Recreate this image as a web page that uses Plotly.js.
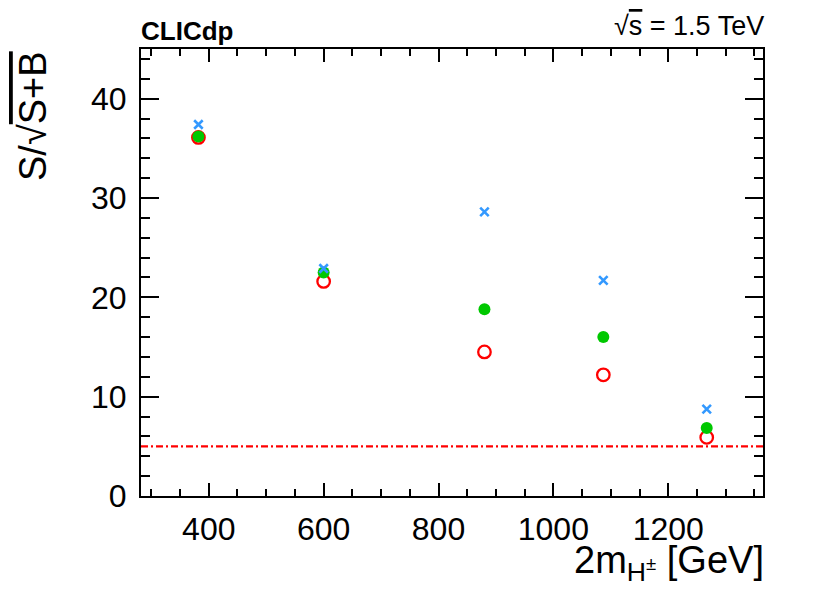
<!DOCTYPE html>
<html>
<head>
<meta charset="utf-8">
<script src="https://cdn.plot.ly/plotly-3.0.1.min.js"></script>
<style>html,body{margin:0;padding:0;background:#fff;}#chart{width:830px;height:605px;}</style>
</head>
<body>
<div id="chart"></div>
<script>
// Data
const massPoints = [382, 600, 880, 1087, 1267];          // 2 m_H± [GeV]
const seriesBlue  = [37.4, 22.9, 28.6, 21.7, 8.75];       // blue crosses
const seriesGreen = [36.2, 22.5, 18.8, 16.0, 6.85];       // green filled circles
const seriesRed   = [36.1, 21.6, 14.5, 12.2, 5.9];        // red open circles
const discoveryLevel = 5;                                  // 5 sigma reference line
const xTickVals = [400, 600, 800, 1000, 1200];
const yTickVals = [0, 10, 20, 30, 40];

const FONT = 'Liberation Sans, Arial, Helvetica, sans-serif';

const traces = [
  {x: massPoints, y: seriesRed, mode: 'markers', type: 'scatter',
   marker: {symbol: 'circle-open', size: 12.5, color: '#ff0000', line: {width: 2.3, color: '#ff0000'}}},
  {x: massPoints, y: seriesGreen, mode: 'markers', type: 'scatter',
   marker: {symbol: 'circle', size: 12, color: '#00c800', line: {width: 0}}},
  {x: massPoints, y: seriesBlue, mode: 'markers', type: 'scatter',
   marker: {symbol: 'x-thin-open', size: 8.5, color: '#3399ff', line: {width: 2.6, color: '#3399ff'}}}
];

const axisCommon = {
  showline: true, linecolor: '#000', linewidth: 2, mirror: 'allticks',
  ticks: 'inside', tickcolor: '#000', tickwidth: 2,
  showgrid: false, zeroline: false,
  tickfont: {family: FONT, size: 32, color: '#000'}
};

const layout = {
  width: 830, height: 605,
  margin: {l: 141, r: 67, t: 49, b: 109},
  paper_bgcolor: '#fff', plot_bgcolor: '#fff',
  showlegend: false,
  xaxis: Object.assign({}, axisCommon, {
    range: [282, 1365], tickvals: xTickVals, ticklen: 13,
    minor: {dtick: 50, tick0: 0, ticklen: 7, tickwidth: 2, tickcolor: '#000', ticks: 'inside'},
    ticklabelstandoff: 4
  }),
  yaxis: Object.assign({}, axisCommon, {
    range: [0, 45], tickvals: yTickVals, ticklen: 18,
    minor: {dtick: 2, tick0: 0, ticklen: 9, tickwidth: 2, tickcolor: '#000', ticks: 'inside'},
    ticklabelstandoff: 6
  }),
  shapes: [{
    type: 'line', xref: 'paper', x0: 0, x1: 1, yref: 'y', y0: discoveryLevel, y1: discoveryLevel,
    line: {color: '#ff0000', width: 2.2, dash: '7px,3px,2px,3px'}, layer: 'below'
  }],
  annotations: [
    {text: '<b>CLICdp</b>', xref: 'paper', yref: 'paper', x: 0, y: 1.0, xanchor: 'left', yanchor: 'bottom',
     showarrow: false, font: {family: FONT, size: 26, color: '#000'}, yshift: 1, xshift: -2},
    {text: '√<span style="text-decoration:overline">s</span> = 1.5 TeV', xref: 'paper', yref: 'paper', x: 1, y: 1.0,
     xanchor: 'right', yanchor: 'bottom', showarrow: false, font: {family: FONT, size: 27, color: '#000'}, yshift: 6, xshift: 3},
    {text: 'S/√<span style="text-decoration:overline">S+B</span>', xref: 'paper', yref: 'paper',
     x: (33 - 141) / 622, y: 1.0, xanchor: 'center', yanchor: 'top', textangle: -90,
     showarrow: false, font: {family: FONT, size: 38, color: '#000'}},
    {text: '2m<sub>H<sup>±</sup></sub> [GeV]', xref: 'paper', yref: 'paper', x: 1, y: (496 - 537) / 447,
     xanchor: 'right', yanchor: 'top', showarrow: false, font: {family: FONT, size: 38, color: '#000'}, xshift: 3}
  ]
};

Plotly.newPlot('chart', traces, layout, {displayModeBar: false, staticPlot: true});
</script>
</body>
</html>
